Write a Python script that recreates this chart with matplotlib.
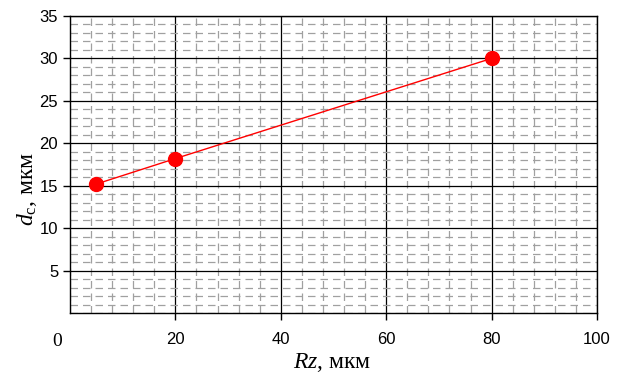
import numpy as np
import matplotlib.pyplot as plt
from matplotlib.ticker import MultipleLocator, NullFormatter

rz = [5, 20, 80]
dc = [15.2, 18.2, 30.0]

x_ticks = [20, 40, 60, 80, 100]
y_ticks = [5, 10, 15, 20, 25, 30, 35]

plt.rcParams['font.family'] = ['Liberation Sans', 'DejaVu Sans']
plt.rcParams['mathtext.fontset'] = 'custom'
plt.rcParams['mathtext.rm'] = 'Liberation Serif'
plt.rcParams['mathtext.it'] = 'Liberation Serif:italic'

fig = plt.figure(figsize=(6.28, 3.78), dpi=100)
ax = fig.add_axes([70/628, 1 - 313/378, 527/628, 297/378])

ax.plot(rz, dc, color='red', linewidth=1, marker='o', markersize=10, zorder=5)

ax.set_xlim(0, 100)
ax.set_ylim(0, 35)
ax.set_xticks(x_ticks)
ax.set_yticks(y_ticks)
ax.xaxis.set_minor_locator(MultipleLocator(4))
ax.yaxis.set_minor_locator(MultipleLocator(1))
ax.xaxis.set_minor_formatter(NullFormatter())
ax.yaxis.set_minor_formatter(NullFormatter())

ax.grid(True, which='major', color='black', linewidth=0.9)
ax.grid(True, which='minor', color='#a0a0a0', linewidth=0.9, linestyle=(0, (6, 4)))
ax.set_axisbelow(True)

ax.tick_params(which='major', direction='out', length=5, width=1, labelsize=12, colors='black')
ax.tick_params(axis='x', which='major', pad=9)
ax.tick_params(which='minor', length=0)
for s in ax.spines.values():
    s.set_color('black')
    s.set_linewidth(1)

# shared origin label
ax.text(-2.5, -3.3, '0', fontsize=14, family='Liberation Serif', ha='center', va='center',
        transform=ax.transData, clip_on=False)

ax.set_xlabel(r'$Rz$, мкм', fontsize=17, family='Liberation Serif')
ax.set_ylabel(r'$d_{\mathrm{c}}$, мкм', fontsize=17, family='Liberation Serif')
ax.xaxis.label.set_va('center')
ax.yaxis.label.set_va('center')
ax.xaxis.set_label_coords(0.497, -0.165)
ax.yaxis.set_label_coords(-0.082, 0.417)

fig.savefig('out.png', dpi=100)
